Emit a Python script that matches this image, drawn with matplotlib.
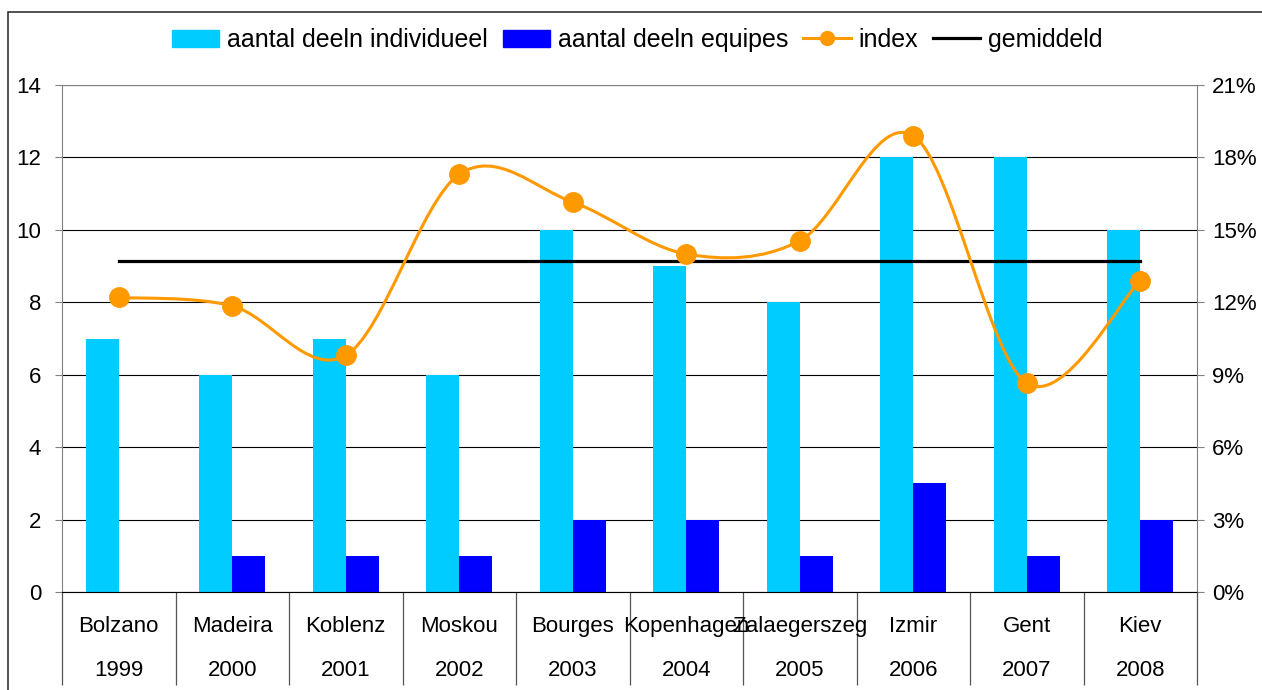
import numpy as np
import matplotlib
matplotlib.use("Agg")
import matplotlib.pyplot as plt
from matplotlib.path import Path
from matplotlib.patches import PathPatch, Rectangle, Patch
from matplotlib.lines import Line2D
from matplotlib.ticker import PercentFormatter

plt.rcParams['font.family'] = ['Liberation Sans', 'DejaVu Sans']

# data
steden = ['Bolzano', 'Madeira', 'Koblenz', 'Moskou', 'Bourges',
          'Kopenhagen', 'Zalaegerszeg', 'Izmir', 'Gent', 'Kiev']
jaren = ['1999', '2000', '2001', '2002', '2003',
         '2004', '2005', '2006', '2007', '2008']
individueel = [7, 6, 7, 6, 10, 9, 8, 12, 12, 10]
equipes = [0, 1, 1, 1, 2, 2, 1, 3, 1, 2]
index = [0.122, 0.1185, 0.098, 0.173, 0.1615, 0.140, 0.1455, 0.189, 0.0865, 0.129]
gemiddeld = [0.137, 0.137, 0.137, 0.137, 0.137, 0.137, 0.137, 0.137, 0.137, 0.137]

cyaan = '#00CCFF'
blauw = '#0000FF'
oranje = '#FF9900'
fs = 16

fig = plt.figure(figsize=(12.62, 6.90), dpi=100)
ax = fig.add_axes([62/1262, 1 - 592/690, (1197 - 62)/1262, 507/690])
ax2 = ax.twinx()

x = np.arange(len(steden))
w = 0.29
ax.bar(x - w/2, individueel, w, color=cyaan, zorder=2)
ax.bar(x + w/2, equipes, w, color=blauw, zorder=2)

ax.set_xlim(-0.5, len(steden) - 0.5)
ax.set_ylim(0, 14)
ax.set_yticks(range(0, 15, 2))
ax.yaxis.grid(True, color='black', linewidth=0.8)
ax.set_axisbelow(True)
ax.tick_params(axis='y', labelsize=fs, length=5, color='#808080', pad=10)

# category separators and two-line labels
ax.set_xticks([])
ax.set_xticks(np.arange(-0.5, len(steden)), minor=True)
ax.tick_params(axis='x', which='minor', length=67, width=0.9, color='#555555')
trans = ax.get_xaxis_transform()
for i in range(len(steden)):
    ax.text(x[i], -0.069, steden[i], transform=trans, ha='center', va='center', fontsize=fs)
    ax.text(x[i], -0.154, jaren[i], transform=trans, ha='center', va='center', fontsize=fs)

for s in ['left', 'right', 'bottom', 'top']:
    ax.spines[s].set_color('#808080')
ax.spines['bottom'].set_color('black')

# right axis
ax2.set_ylim(0, 0.21)
ax2.set_yticks(np.arange(0, 0.211, 0.03))
ax2.yaxis.set_major_formatter(PercentFormatter(1.0, decimals=0))
ax2.tick_params(axis='y', labelsize=fs, length=5, color='#808080', pad=6)
for s in ax2.spines.values():
    s.set_visible(False)

ax2.plot(x, gemiddeld, color='black', linewidth=2.3, zorder=3)

# smoothed index line (Excel-style bezier)
pts = np.column_stack([x, index])
verts = [pts[0]]
codes = [Path.MOVETO]
for i in range(len(pts) - 1):
    p0 = pts[max(i - 1, 0)]
    p1 = pts[i]
    p2 = pts[i + 1]
    p3 = pts[min(i + 2, len(pts) - 1)]
    verts += [p1 + (p2 - p0)/6, p2 - (p3 - p1)/6, p2]
    codes += [Path.CURVE4] * 3
ax2.add_patch(PathPatch(Path(verts, codes), fill=False, edgecolor=oranje, linewidth=2.2, zorder=4))
ax2.plot(x, index, 'o', color=oranje, markersize=14, zorder=5)

# legend
handles = [Patch(color=cyaan), Patch(color=blauw),
           Line2D([], [], color=oranje, linewidth=2.2, marker='o', markersize=10),
           Line2D([], [], color='black', linewidth=2.3)]
labels = ['aantal deeln individueel', 'aantal deeln equipes', 'index', 'gemiddeld']
fig.legend(handles, labels, loc='center', bbox_to_anchor=(637/1262, 1 - 40/690),
           ncol=4, frameon=False, fontsize=18, handlelength=1.9, handleheight=0.65,
           handletextpad=0.3, columnspacing=0.6)

# chart border
fig.patches.append(Rectangle((8/1262, -0.1), 1.2, 1.1 - 12/690, transform=fig.transFigure,
                             fill=False, edgecolor='#333333', linewidth=1.2))

fig.savefig('out.png', dpi=100)
